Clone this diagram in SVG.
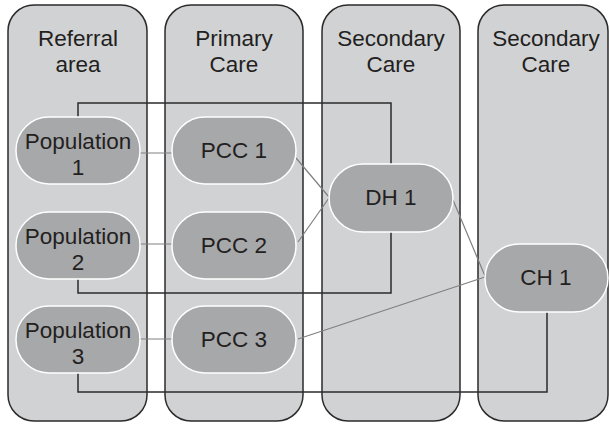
<svg xmlns="http://www.w3.org/2000/svg" width="609" height="424" viewBox="0 0 609 424">
<style>
.col{fill:#d1d2d4;stroke:#2b2b2b;stroke-width:1.5}
.node{fill:#a7a8aa;stroke:#ffffff;stroke-width:1.5}
.t{font-family:"Liberation Sans",Arial,sans-serif;font-size:22.5px;fill:#231f20;text-anchor:middle}
.dark{fill:none;stroke:#2b2b2b;stroke-width:1.5}
.grey{fill:none;stroke:#808080;stroke-width:1.2}
</style>
<rect width="609" height="424" fill="#ffffff"/>
<g id="col-referral"><rect class="col" x="8" y="5" width="139" height="416" rx="26"/><text class="t" x="78" y="46">Referral</text><text class="t" x="78" y="72">area</text></g>
<g id="col-primary"><rect class="col" x="165" y="5" width="138" height="416" rx="26"/><text class="t" x="234" y="46">Primary</text><text class="t" x="234" y="72">Care</text></g>
<g id="col-secondary1"><rect class="col" x="322" y="5" width="138" height="416" rx="26"/><text class="t" x="391" y="46">Secondary</text><text class="t" x="391" y="72">Care</text></g>
<g id="col-secondary2"><rect class="col" x="478" y="5" width="130" height="416" rx="26"/><text class="t" x="546" y="46">Secondary</text><text class="t" x="546" y="72">Care</text></g>
<g id="connectors">
<path class="grey" d="M140 153H172M140 244H172M140 339H172"/>
<path class="grey" d="M296 158L329 197M298 242L329 198M298 339L485 277M453 200L485 276"/>
<path class="dark" d="M78 117V103H391V164M78 279V293H391V232M78 373V392H547V312"/>
</g>
<g id="pop1"><rect class="node" x="16" y="117" width="124" height="67" rx="33"/><text class="t" x="78" y="149">Population</text><text class="t" x="78" y="175">1</text></g>
<g id="pop2"><rect class="node" x="16" y="212" width="124" height="67" rx="33"/><text class="t" x="78" y="244">Population</text><text class="t" x="78" y="270">2</text></g>
<g id="pop3"><rect class="node" x="16" y="306" width="124" height="67" rx="33"/><text class="t" x="78" y="338">Population</text><text class="t" x="78" y="364">3</text></g>
<g id="pcc1"><rect class="node" x="172" y="117" width="124" height="67" rx="33"/><text class="t" x="234" y="158">PCC 1</text></g>
<g id="pcc2"><rect class="node" x="172" y="212" width="124" height="67" rx="33"/><text class="t" x="234" y="253">PCC 2</text></g>
<g id="pcc3"><rect class="node" x="172" y="306" width="124" height="67" rx="33"/><text class="t" x="234" y="347">PCC 3</text></g>
<g id="dh1"><rect class="node" x="329" y="164" width="124" height="68" rx="34"/><text class="t" x="391" y="205">DH 1</text></g>
<g id="ch1"><rect class="node" x="485" y="244" width="123" height="68" rx="34"/><text class="t" x="546" y="285">CH 1</text></g>
</svg>
